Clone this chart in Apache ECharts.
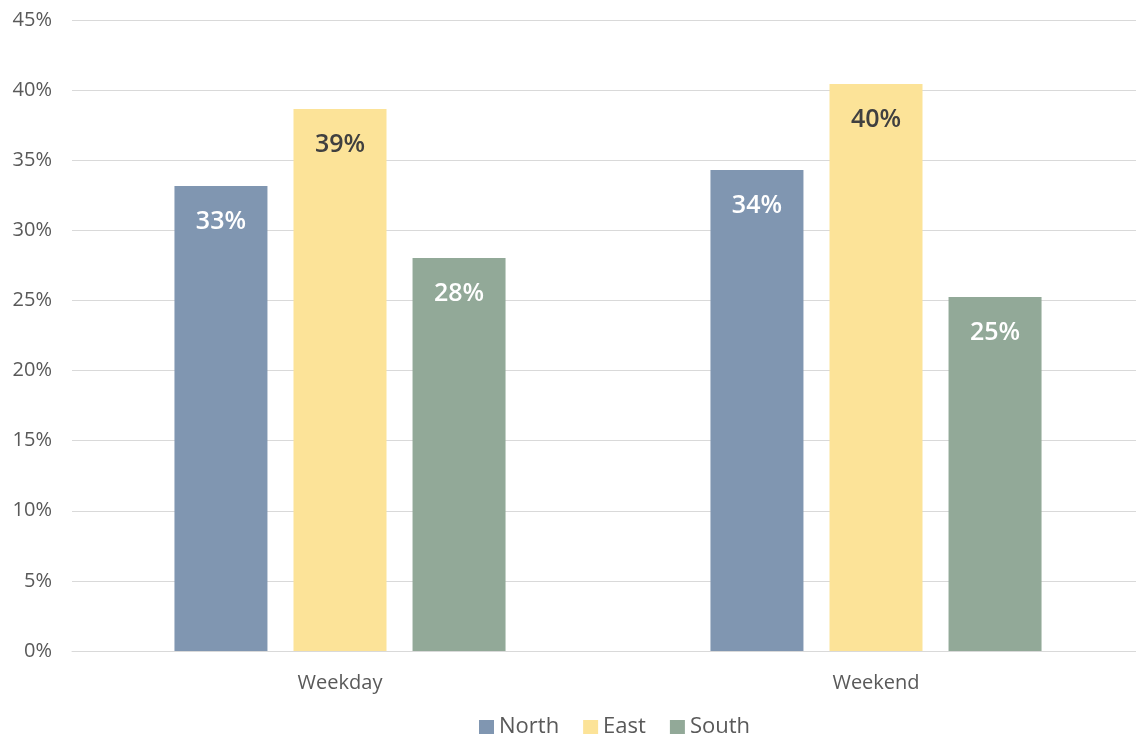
<!DOCTYPE html>
<html>
<head>
<meta charset="utf-8">
<script src="https://cdn.jsdelivr.net/npm/echarts@6/dist/echarts.min.js"></script>
<style>html,body{margin:0;padding:0;background:#fff;overflow:hidden;width:1136px;height:738px;}#c{width:1144px;height:738px;}</style>
</head>
<body>
<div id="c"></div>
<script>
const categories = ['Weekday', 'Weekend'];
const seriesNames = ['North', 'East', 'South'];
const north = [33.17, 34.31];
const east = [38.66, 40.44];
const south = [28.03, 25.25];
const colors = ['#8096b1', '#fce398', '#92a998'];
const labelColors = ['#ffffff', '#404040', '#ffffff'];
const values = [north, east, south];

const chart = echarts.init(document.getElementById('c'), null, {renderer: 'canvas'});
const font = '"Open Sans", "Noto Sans", sans-serif';
chart.setOption({
  animation: false,
  textStyle: {fontFamily: font},
  grid: {left: 72, right: 0, top: 20, bottom: 87, containLabel: false},
  legend: {
    top: 711, left: 474,
    itemWidth: 15, itemHeight: 14, itemGap: 24,
    icon: 'rect',
    textStyle: {fontSize: 22, color: '#595959', fontFamily: font},
    data: seriesNames
  },
  xAxis: {
    type: 'category', data: categories,
    axisLine: {lineStyle: {color: '#d9d9d9'}},
    axisTick: {show: false},
    axisLabel: {color: '#595959', fontSize: 20, margin: 22, fontFamily: font}
  },
  yAxis: {
    type: 'value', min: 0, max: 45, interval: 5,
    axisLabel: {formatter: '{value}%', color: '#595959', fontSize: 20, margin: 20, fontFamily: font},
    splitLine: {lineStyle: {color: '#d9d9d9', width: 1}},
    axisLine: {show: false}, axisTick: {show: false}
  },
  series: seriesNames.map((n, i) => ({
    name: n, type: 'bar', data: values[i],
    barWidth: 93, barGap: '28%',
    itemStyle: {color: colors[i]},
    label: {
      show: true, position: 'insideTop', distance: 23,
      formatter: p => Math.round(p.value) + '%',
      color: labelColors[i], fontSize: 25, fontWeight: 600, fontFamily: font
    }
  }))
});
</script>
</body>
</html>
